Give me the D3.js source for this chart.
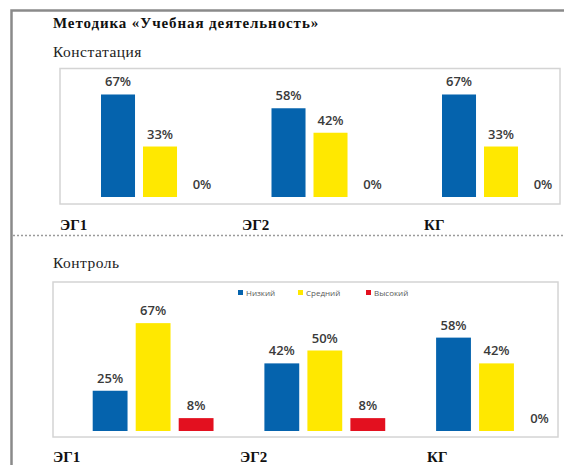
<!DOCTYPE html>
<html><head><meta charset="utf-8">
<script src="https://cdn.jsdelivr.net/npm/d3@7"></script>
<style>body{margin:0;background:#fff;}svg{display:block;}</style>
</head><body>
<svg id="c" width="564" height="465"></svg>
<script>
const categories = ["ЭГ1", "ЭГ2", "КГ"];
const seriesNames = ["Низкий", "Средний", "Высокий"];
const seriesColors = ["#0563AD", "#FFE800", "#E3101F"];
// Констатация
const constNizkiy = [67, 58, 67];
const constSredniy = [33, 42, 33];
const constVysokiy = [0, 0, 0];
// Контроль
const ctrlNizkiy = [25, 42, 58];
const ctrlSredniy = [67, 50, 42];
const ctrlVysokiy = [8, 8, 0];
const mainTitle = "Методика «Учебная деятельность»";
const panelTitles = ["Констатация", "Контроль"];

const svg = d3.select("#c");

// outer frame
svg.append("path").attr("d", "M11.5,465 V10.5 H564")
  .attr("fill", "none").attr("stroke", "#8a8a8a").attr("stroke-width", 2.5);
// dotted separator
svg.append("line").attr("x1", 13).attr("x2", 564).attr("y1", 235.5).attr("y2", 235.5)
  .attr("stroke", "#9a9a9a").attr("stroke-width", 1.5).attr("stroke-dasharray", "2,2");

svg.append("text").attr("x", 53).attr("y", 27.5).text(mainTitle)
  .attr("font-family", "Liberation Serif").attr("font-weight", "bold").attr("font-size", 15)
  .attr("letter-spacing", 0.9).attr("fill", "#111");

function panel(opts) {
  const g = svg.append("g");
  g.append("text").attr("x", opts.titleX).attr("y", opts.titleY).text(opts.title)
    .attr("font-family", "Liberation Serif").attr("font-size", 15.5).attr("letter-spacing", 0.5)
    .attr("fill", "#222");
  g.append("rect").attr("x", opts.box[0]).attr("y", opts.box[1])
    .attr("width", opts.box[2] - opts.box[0]).attr("height", opts.box[3] - opts.box[1])
    .attr("fill", "#fff").attr("stroke", "#d4d4d4").attr("stroke-width", 1.5);

  const xGroup = d3.scaleBand().domain(categories)
    .range([opts.groupStart, opts.groupStart + categories.length * opts.groupStep]);
  const xSub = d3.scaleBand().domain(seriesNames)
    .range([0, seriesNames.length * opts.subStep]).paddingInner(0.19).paddingOuter(0.095);
  const y = d3.scaleLinear().domain([0, 100]).range([opts.baseline, opts.baseline - opts.pxPer100]);
  const color = d3.scaleOrdinal().domain(seriesNames).range(seriesColors);

  const data = [];
  categories.forEach((c, i) => {
    seriesNames.forEach((s, j) => data.push({ cat: c, ser: s, val: opts.values[j][i] }));
  });

  const off = xSub.step() * 0.095;
  g.selectAll("rect.bar").data(data).enter().append("rect").attr("class", "bar")
    .attr("x", d => xGroup(d.cat) - off + xSub(d.ser))
    .attr("y", d => y(d.val))
    .attr("width", xSub.bandwidth())
    .attr("height", d => y(0) - y(d.val))
    .attr("fill", d => color(d.ser));

  g.selectAll("text.val").data(data).enter().append("text").attr("class", "val")
    .attr("x", d => xGroup(d.cat) - off + xSub(d.ser) + xSub.bandwidth() / 2)
    .attr("y", d => y(d.val) - 8)
    .attr("text-anchor", "middle")
    .attr("font-family", "Open Sans").attr("font-weight", 600).attr("font-size", 13)
    .attr("fill", "#3a3a3a")
    .text(d => d.val + "%");

  const xLab = d3.scalePoint().domain(categories).range(opts.labelRange);
  g.selectAll("text.cat").data(categories).enter().append("text").attr("class", "cat")
    .attr("x", d => xLab(d)).attr("y", opts.labelY)
    .attr("font-family", "Liberation Serif").attr("font-weight", "bold").attr("font-size", 15)
    .attr("fill", "#111").text(d => d);

  if (opts.legend) {
    const lg = g.append("g");
    const lx = opts.legendX;
    seriesNames.forEach((s, j) => {
      lg.append("rect").attr("x", lx[j]).attr("y", opts.legendY - 3).attr("width", 5).attr("height", 5)
        .attr("fill", seriesColors[j]);
      lg.append("text").attr("x", lx[j] + 8).attr("y", opts.legendY + 2.5).text(s)
        .attr("font-family", "Open Sans").attr("font-size", 8).attr("fill", "#595959");
    });
  }
}

panel({
  title: panelTitles[0], titleX: 53, titleY: 56.5,
  box: [60, 68.5, 560, 204],
  groupStart: 101, groupStep: 170.5, subStep: 42,
  baseline: 197, pxPer100: 153,
  values: [constNizkiy, constSredniy, constVysokiy],
  labelRange: [60, 424], labelY: 230,
  legend: false
});

panel({
  title: panelTitles[1], titleX: 53, titleY: 268,
  box: [53, 282, 558, 437],
  groupStart: 92.7, groupStep: 171.7, subStep: 43,
  baseline: 431, pxPer100: 161,
  values: [ctrlNizkiy, ctrlSredniy, ctrlVysokiy],
  labelRange: [53, 427], labelY: 462,
  legend: true, legendX: [238, 298, 366], legendY: 293
});
</script>
</body></html>
